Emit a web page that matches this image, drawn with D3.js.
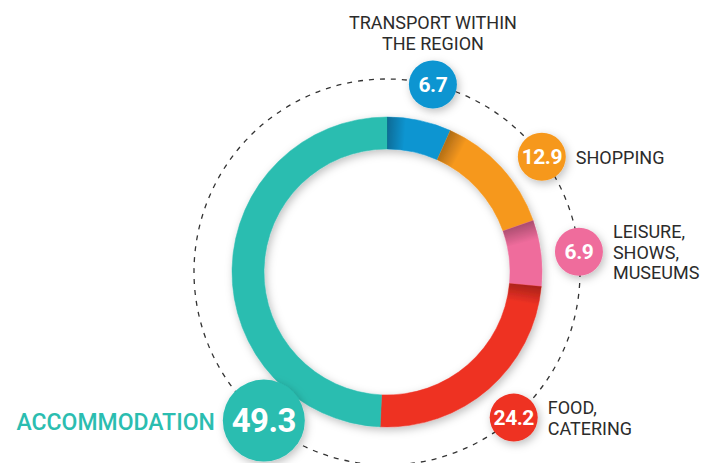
<!DOCTYPE html>
<html>
<head>
<meta charset="utf-8">
<script src="https://cdn.jsdelivr.net/npm/d3@7"></script>
<style>
    body { margin: 0; background: #fff; }
    svg { display: block; }
    .label { font-family: Roboto, sans-serif; font-size: 18px; fill: #2b2b2b; }
    .value { font-family: Roboto, sans-serif; font-weight: 700; fill: #fff; }
</style>
</head>
<body>
<div id="chart"></div>
<script>
// spending breakdown (%), clockwise from the top
const categories = ['Transport within the region', 'Shopping', 'Leisure, shows, museums', 'Food, catering', 'Accommodation'];
const values = [6.7, 12.9, 6.9, 24.2, 49.3];
const labelLines = [
    ['TRANSPORT WITHIN', 'THE REGION'],
    ['SHOPPING'],
    ['LEISURE,', 'SHOWS,', 'MUSEUMS'],
    ['FOOD,', 'CATERING'],
    ['ACCOMMODATION']
];

class DonutChart {
    constructor(_config, _data) {
        this.config = {
            parentElement: _config.parentElement,
            containerWidth: _config.containerWidth || 711,
            containerHeight: _config.containerHeight || 463,
            cx: 387, cy: 272,
            outerRadius: 155, innerRadius: 123,
            guideRadius: 193
        };
        this.data = _data;
        this.initVis();
    }

    initVis() {
        let vis = this;
        const c = vis.config;

        vis.svg = d3.select(c.parentElement)
            .append('svg')
            .attr('width', c.containerWidth)
            .attr('height', c.containerHeight);

        vis.defs = vis.svg.append('defs');
        const shadow = vis.defs.append('filter').attr('id', 'shadow')
            .attr('x', '-30%').attr('y', '-30%').attr('width', '160%').attr('height', '160%');
        shadow.append('feDropShadow')
            .attr('dx', 2).attr('dy', 3).attr('stdDeviation', 4)
            .attr('flood-color', '#000').attr('flood-opacity', 0.25);

        vis.chart = vis.svg.append('g')
            .attr('transform', `translate(${c.cx},${c.cy})`);

        vis.colorScale = d3.scaleOrdinal()
            .domain(categories)
            .range(['#0a95d1', '#f6981f', '#ef6c9c', '#ee3124', '#2bbdb0']);

        vis.pie = d3.pie().sort(null).value(d => d.value);
        vis.arc = d3.arc().innerRadius(c.innerRadius).outerRadius(c.outerRadius);

        // bubble angle tweak (degrees) relative to segment middle
        vis.angleShift = [1.7, 6, 1, 0, -51.6];
        vis.bubbleRadius = [24, 24, 24, 24, 41];

        vis.updateVis();
    }

    updateVis() {
        let vis = this;
        vis.arcs = vis.pie(vis.data);
        vis.renderVis();
    }

    renderVis() {
        let vis = this;
        const c = vis.config;
        const pt = (a, r) => [r * Math.sin(a), -r * Math.cos(a)];

        // dashed guide circle
        vis.chart.append('circle')
            .attr('r', c.guideRadius)
            .attr('fill', 'none')
            .attr('stroke', '#333')
            .attr('stroke-width', 1.3)
            .attr('stroke-dasharray', '5,6');

        // ring
        const ring = vis.chart.append('g').attr('filter', 'url(#shadow)');
        ring.selectAll('.slice')
            .data(vis.arcs)
            .join('path')
            .attr('class', 'slice')
            .attr('d', vis.arc)
            .attr('fill', d => vis.colorScale(d.data.key))
            .attr('stroke', d => vis.colorScale(d.data.key))
            .attr('stroke-width', 0.5);

        // darker shading at the start of each coloured segment
        const midR = (c.innerRadius + c.outerRadius) / 2;
        const shaded = vis.arcs.slice(0, vis.arcs.length - 1);
        shaded.forEach((d, i) => {
            const a0 = d.startAngle, a1 = Math.min(d.startAngle + 0.13, d.endAngle);
            const p0 = pt(a0, midR), p1 = pt(a1, midR);
            const g = vis.defs.append('linearGradient')
                .attr('id', 'shade' + i)
                .attr('gradientUnits', 'userSpaceOnUse')
                .attr('x1', p0[0]).attr('y1', p0[1])
                .attr('x2', p1[0]).attr('y2', p1[1]);
            g.append('stop').attr('offset', 0).attr('stop-color', '#000').attr('stop-opacity', 0.28);
            g.append('stop').attr('offset', 1).attr('stop-color', '#000').attr('stop-opacity', 0);
            ring.append('path')
                .attr('d', vis.arc({startAngle: a0, endAngle: a1}))
                .attr('fill', `url(#shade${i})`);
        });

        // bubbles with values
        const bubbles = vis.chart.selectAll('.bubble')
            .data(vis.arcs)
            .join('g')
            .attr('class', 'bubble')
            .attr('transform', (d, i) => {
                const a = (d.startAngle + d.endAngle) / 2 + vis.angleShift[i] * Math.PI / 180;
                d.bx = c.guideRadius * Math.sin(a);
                d.by = -c.guideRadius * Math.cos(a);
                return `translate(${d.bx},${d.by})`;
            });

        bubbles.append('circle')
            .attr('r', (d, i) => vis.bubbleRadius[i])
            .attr('fill', d => vis.colorScale(d.data.key))
            .attr('filter', 'url(#shadow)');

        bubbles.append('text')
            .attr('class', 'value')
            .attr('text-anchor', 'middle')
            .style('font-size', (d, i) => (i === 4 ? 33 : 21) + 'px')
            .attr('dy', '0.36em')
            .attr('letter-spacing', -0.5)
            .text(d => d.data.value.toFixed(1));

        // category labels
        const lh = 20.5;
        bubbles.each(function(d, i) {
            const g = d3.select(this);
            const r = vis.bubbleRadius[i];
            const lines = d.data.lines;
            const t = g.append('text').attr('class', 'label');
            if (i === 0) {
                // above the bubble
                t.attr('text-anchor', 'middle');
                lines.forEach((l, j) => t.append('tspan')
                    .attr('x', 0)
                    .attr('y', -r - 11 - (lines.length - 1 - j) * lh)
                    .text(l));
            } else if (i === 4) {
                t.attr('text-anchor', 'end')
                    .style('font-size', '23px')
                    .style('font-weight', 500)
                    .style('fill', vis.colorScale(d.data.key));
                t.append('tspan').attr('x', -r - 8).attr('y', 9).text(lines[0]);
            } else {
                lines.forEach((l, j) => t.append('tspan')
                    .attr('x', r + 10)
                    .attr('y', 7 + (j - (lines.length - 1) / 2) * lh)
                    .text(l));
            }
        });
    }
}

const data = categories.map((key, i) => ({key: key, value: values[i], lines: labelLines[i]}));
new DonutChart({parentElement: '#chart'}, data);
</script>
</body>
</html>
